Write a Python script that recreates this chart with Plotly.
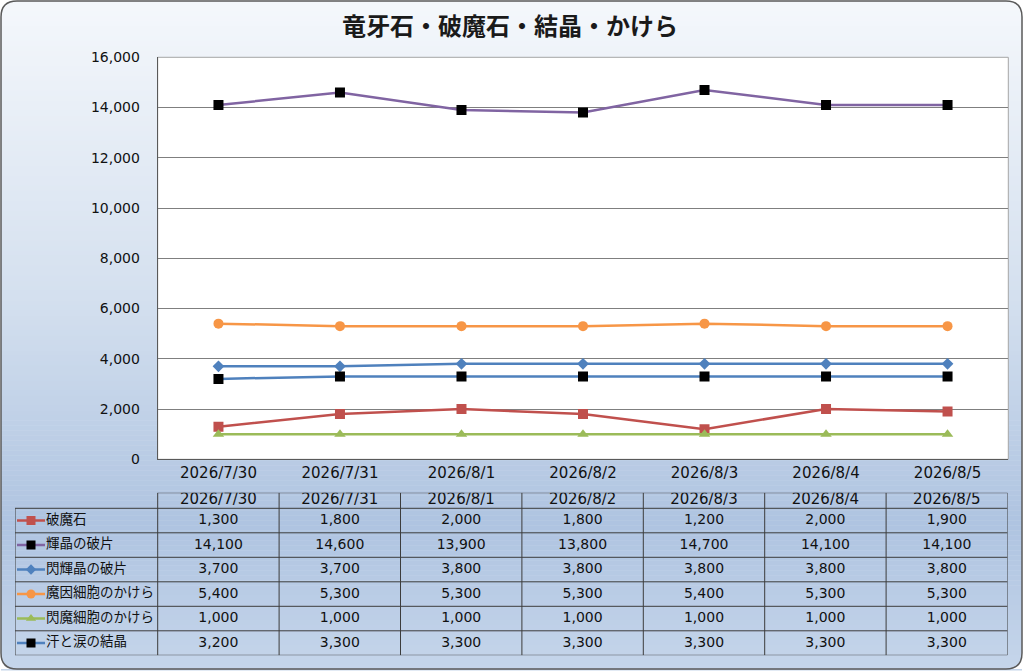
import numpy as np
import plotly.graph_objects as go

# chart values
dates = ["2026/7/30", "2026/7/31", "2026/8/1", "2026/8/2", "2026/8/3", "2026/8/4", "2026/8/5"]
names = ["破魔石", "輝晶の破片", "閃輝晶の破片", "魔因細胞のかけら", "閃魔細胞のかけら", "汗と涙の結晶"]
hamaseki = [1300, 1800, 2000, 1800, 1200, 2000, 1900]
kisho_hahen = [14100, 14600, 13900, 13800, 14700, 14100, 14100]
senkisho_hahen = [3700, 3700, 3800, 3800, 3800, 3800, 3800]
main_kakera = [5400, 5300, 5300, 5300, 5400, 5300, 5300]
senma_kakera = [1000, 1000, 1000, 1000, 1000, 1000, 1000]
ase_namida = [3200, 3300, 3300, 3300, 3300, 3300, 3300]
values = [hamaseki, kisho_hahen, senkisho_hahen, main_kakera, senma_kakera, ase_namida]
title = "竜牙石・破魔石・結晶・かけら"

# styles per series: line colour, marker colour, marker symbol, marker size
styles = [
    ("#c0504d", "#c0504d", "square", 10),
    ("#8064a2", "#000000", "square", 10),
    ("#4f81bd", "#4f81bd", "diamond", 9),
    ("#f79646", "#f79646", "circle", 10),
    ("#9bbb59", "#9bbb59", "triangle-up", 10),
    ("#4f81bd", "#000000", "square", 10),
]

W, H = 1024, 671
FONT = "DejaVu Sans, Noto Sans CJK JP"
JFONT = "Noto Sans CJK JP"
INK = "#111111"


def px(x):
    return x / W


def py(y):
    return 1 - y / H


# layout geometry in pixels
plot_l, plot_r, plot_t, plot_b = 157.7, 1008.3, 57.3, 459.3
tab_l, tab_r, tab_t, tab_b = 15, 1007.5, 492.7, 655.3
col_w = (tab_r - plot_l) / len(dates)
lab_w = (plot_l - tab_l) / col_w          # label column width in column units
row_h = 24.5
head_h = (tab_b - tab_t - row_h * len(names)) / row_h

fig = go.Figure()

# main chart lines
for name, vals, (lc, mc, sym, ms) in zip(names, values, styles):
    fig.add_trace(go.Scatter(
        x=dates, y=vals, name=name, mode="lines+markers",
        line=dict(color=lc, width=2.5),
        marker=dict(color=mc, symbol=sym, size=ms, line=dict(width=0)),
        xaxis="x", yaxis="y", hoverinfo="skip",
    ))

# data table: values
for r, vals in enumerate(values):
    fig.add_trace(go.Scatter(
        x=[c + 0.5 for c in range(len(dates))], y=[r + 0.5] * len(dates),
        text=[f"{v:,}" for v in vals], mode="text",
        textfont=dict(family=FONT, size=14, color=INK),
        xaxis="x2", yaxis="y2", hoverinfo="skip",
    ))

# data table: header
fig.add_trace(go.Scatter(
    x=[c + 0.5 for c in range(len(dates))], y=[-head_h / 2] * len(dates),
    text=dates, mode="text",
    textfont=dict(family=FONT, size=15, color=INK),
    xaxis="x2", yaxis="y2", hoverinfo="skip",
))

# data table: row labels with legend keys
key_x0 = -lab_w + 2 / col_w
key_x1 = -lab_w + 30 / col_w
key_xm = (key_x0 + key_x1) / 2
for r, (name, (lc, mc, sym, ms)) in enumerate(zip(names, styles)):
    fig.add_trace(go.Scatter(
        x=[key_x0, key_x1], y=[r + 0.5, r + 0.5], mode="lines",
        line=dict(color=lc, width=2.5), xaxis="x2", yaxis="y2", hoverinfo="skip",
    ))
    fig.add_trace(go.Scatter(
        x=[key_xm], y=[r + 0.5], mode="markers",
        marker=dict(color=mc, symbol=sym, size=ms - 1, line=dict(width=0)),
        xaxis="x2", yaxis="y2", hoverinfo="skip",
    ))
    fig.add_trace(go.Scatter(
        x=[key_x1 + 1 / col_w], y=[r + 0.5], text=[name], mode="text",
        textposition="middle right",
        textfont=dict(family=JFONT, size=13.5, color=INK),
        xaxis="x2", yaxis="y2", hoverinfo="skip",
    ))

shapes = []

# background gradient in stripes
stops_y = [0, 0.45, 0.78, 1.0]
stops_c = [(245, 248, 252), (212, 224, 239), (175, 196, 225), (198, 214, 235)]
n_strip = 134
for i in range(n_strip):
    f = (i + 0.5) / n_strip
    rgb = [int(np.interp(f, stops_y, [c[k] for c in stops_c])) for k in range(3)]
    y0 = 1 + i * (H - 2) / n_strip
    y1 = 1 + (i + 1) * (H - 2) / n_strip + 0.5
    shapes.append(dict(type="rect", xref="paper", yref="paper", layer="below",
                       x0=px(1), x1=px(1022), y0=py(y0), y1=py(y1),
                       fillcolor=f"rgb({rgb[0]},{rgb[1]},{rgb[2]})", line=dict(width=0)))

# white corners outside rounded frame, then the frame
fx0, fx1, fy0, fy1, rad = 1, 1022, 1, 669, 16
rx, ry = rad / W, rad / H
X0, X1, Y0, Y1 = px(fx0), px(fx1), py(fy0), py(fy1)
corners = [
    f"M {X0},{Y0} L {X0 + rx},{Y0} Q {X0},{Y0} {X0},{Y0 - ry} Z",
    f"M {X1},{Y0} L {X1 - rx},{Y0} Q {X1},{Y0} {X1},{Y0 - ry} Z",
    f"M {X0},{Y1} L {X0 + rx},{Y1} Q {X0},{Y1} {X0},{Y1 + ry} Z",
    f"M {X1},{Y1} L {X1 - rx},{Y1} Q {X1},{Y1} {X1},{Y1 + ry} Z",
]
for p in corners:
    shapes.append(dict(type="path", path=p, xref="paper", yref="paper", layer="below",
                       fillcolor="white", line=dict(width=0)))
frame = (f"M {X0 + rx},{Y0} L {X1 - rx},{Y0} Q {X1},{Y0} {X1},{Y0 - ry} "
         f"L {X1},{Y1 + ry} Q {X1},{Y1} {X1 - rx},{Y1} L {X0 + rx},{Y1} "
         f"Q {X0},{Y1} {X0},{Y1 + ry} L {X0},{Y0 - ry} Q {X0},{Y0} {X0 + rx},{Y0} Z")
shapes.append(dict(type="path", path=frame, xref="paper", yref="paper", layer="below",
                   line=dict(color="#5a5a5a", width=1.5)))

# white plot area
shapes.append(dict(type="rect", xref="paper", yref="paper", layer="below",
                   x0=px(plot_l), x1=px(plot_r), y0=py(plot_b), y1=py(plot_t),
                   fillcolor="white", line=dict(color="#a6a6a6", width=1)))

# table grid
grid = dict(color="#3c3c3c", width=1)
shapes.append(dict(type="line", xref="x2", yref="y2", x0=0, x1=len(dates),
                   y0=-head_h, y1=-head_h, line=grid))
for r in range(len(names) + 1):
    shapes.append(dict(type="line", xref="x2", yref="y2", x0=-lab_w, x1=len(dates),
                       y0=r, y1=r, line=grid))
shapes.append(dict(type="line", xref="x2", yref="y2", x0=-lab_w, x1=-lab_w,
                   y0=0, y1=len(names), line=grid))
for c in range(len(dates) + 1):
    shapes.append(dict(type="line", xref="x2", yref="y2", x0=c, x1=c,
                       y0=-head_h, y1=len(names), line=grid))

fig.update_layout(
    width=W, height=H,
    margin=dict(l=0, r=0, t=0, b=0, pad=0, autoexpand=False),
    paper_bgcolor="white",
    plot_bgcolor="rgba(0,0,0,0)",
    showlegend=False,
    hovermode=False,
    font=dict(family=FONT, size=14, color=INK),
    shapes=shapes,
    xaxis=dict(
        domain=[px(plot_l), px(plot_r)], anchor="y", automargin=False,
        type="category", range=[-0.5, len(dates) - 0.5],
        showgrid=False, showline=True, linecolor="#595959", linewidth=1,
        ticks="", tickfont=dict(family=FONT, size=15, color=INK),
        fixedrange=True,
    ),
    yaxis=dict(
        domain=[py(plot_b), py(plot_t)], anchor="x", automargin=False,
        range=[0, 16000], dtick=2000, tickformat=",",
        showgrid=True, gridcolor="#7f7f7f", gridwidth=1,
        showline=True, linecolor="#595959", linewidth=1,
        ticks="", ticklabelstandoff=14, zeroline=False,
        tickfont=dict(family=FONT, size=14, color=INK),
        fixedrange=True,
    ),
    xaxis2=dict(
        domain=[px(tab_l), px(tab_r)], anchor="y2", automargin=False,
        range=[-lab_w, len(dates)], visible=False, fixedrange=True,
    ),
    yaxis2=dict(
        domain=[py(tab_b), py(tab_t)], anchor="x2", automargin=False,
        range=[len(names), -head_h], visible=False, fixedrange=True,
    ),
    annotations=[dict(
        text=title, xref="paper", yref="paper", x=px(510), y=py(25),
        showarrow=False, xanchor="center", yanchor="middle",
        font=dict(family=JFONT, size=24, color="#1a1a1a", weight="bold"),
    )],
)

# pin the graph to the top-left of the window, nothing else in the page flow
pin = ("var gd=document.getElementById('{plot_id}');"
       "var h=document.documentElement, b=document.body;"
       "h.style.margin='0'; b.style.margin='0'; b.style.padding='0';"
       "h.style.overflow='hidden'; b.style.overflow='hidden';"
       "h.style.height='671px'; b.style.height='671px';"
       "var p=gd.parentNode; p.style.fontSize='0'; p.style.lineHeight='0'; p.style.margin='0';"
       "gd.style.position='fixed'; gd.style.left='0px'; gd.style.top='0px';")

fig.write_html("out.html", post_script=pin, config={"displayModeBar": False})
